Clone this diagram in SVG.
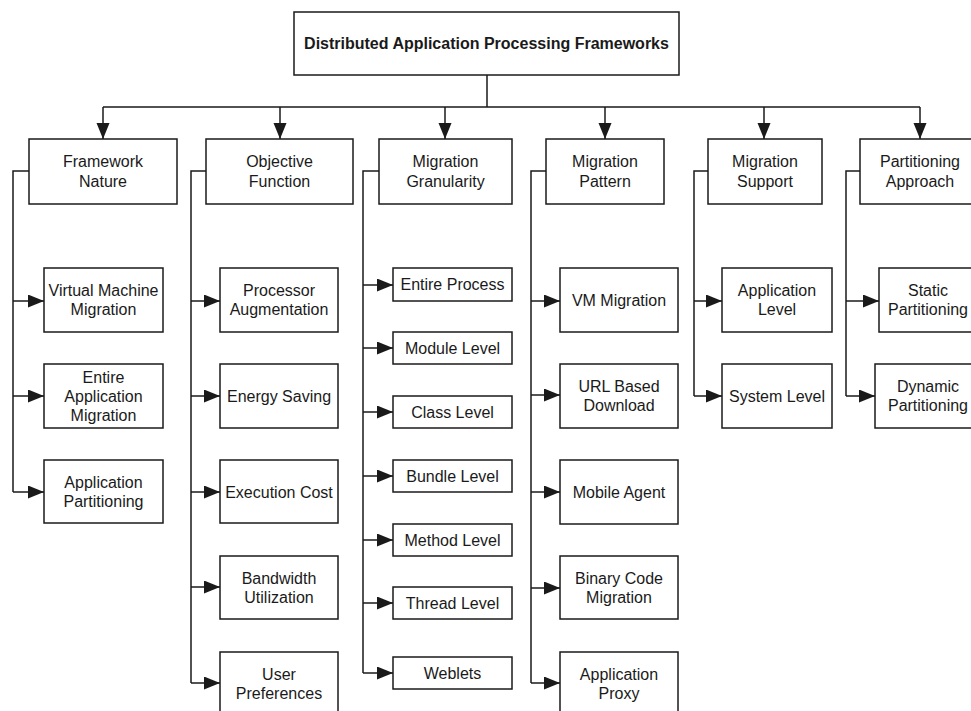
<svg xmlns="http://www.w3.org/2000/svg" width="971" height="711" viewBox="0 0 971 711">
<defs>
<marker id="arr" markerUnits="userSpaceOnUse" markerWidth="17" markerHeight="14" refX="16" refY="6.5" orient="auto">
<path d="M0,0 L16,6.5 L0,13 z" fill="#1a1a1a"/>
</marker>
<style>
rect{fill:#fff;stroke:#1a1a1a;stroke-width:1.5}
text{font-family:"Liberation Sans",Arial,sans-serif;font-size:16px;fill:#1a1a1a;text-anchor:middle}
.root{font-weight:bold}
.ln{fill:none;stroke:#1a1a1a;stroke-width:1.5}
.ar{fill:none;stroke:#1a1a1a;stroke-width:1.5;marker-end:url(#arr)}
</style>
</defs>
<rect x="0" y="0" width="971" height="711" style="fill:#fff;stroke:none"/>
<g id="connectors">
<path class="ln" d="M487,75 V107 M103,107 H920"/>
<path class="ar" d="M103,107 V139"/>
<path class="ar" d="M280,107 V139"/>
<path class="ar" d="M445,107 V139"/>
<path class="ar" d="M605,107 V139"/>
<path class="ar" d="M764,107 V139"/>
<path class="ar" d="M920,107 V139"/>
<path class="ln" d="M29,171 H13 V492"/>
<path class="ar" d="M13,301 H44"/>
<path class="ar" d="M13,396 H44"/>
<path class="ar" d="M13,492 H44"/>
<path class="ln" d="M206,171 H191 V683"/>
<path class="ar" d="M191,301 H220"/>
<path class="ar" d="M191,396 H220"/>
<path class="ar" d="M191,492 H220"/>
<path class="ar" d="M191,587 H220"/>
<path class="ar" d="M191,683 H220"/>
<path class="ln" d="M379,171 H363 V673"/>
<path class="ar" d="M363,285 H393"/>
<path class="ar" d="M363,348 H393"/>
<path class="ar" d="M363,412 H393"/>
<path class="ar" d="M363,476 H393"/>
<path class="ar" d="M363,540 H393"/>
<path class="ar" d="M363,603 H393"/>
<path class="ar" d="M363,673 H393"/>
<path class="ln" d="M546,171 H531 V683"/>
<path class="ar" d="M531,301 H560"/>
<path class="ar" d="M531,395 H560"/>
<path class="ar" d="M531,492 H560"/>
<path class="ar" d="M531,588 H560"/>
<path class="ar" d="M531,683 H560"/>
<path class="ln" d="M708,171 H694 V396"/>
<path class="ar" d="M694,301 H722"/>
<path class="ar" d="M694,396 H722"/>
<path class="ln" d="M860,171 H846 V396"/>
<path class="ar" d="M846,301 H879"/>
<path class="ar" d="M846,396 H875"/>
</g>
<g id="root"><rect x="294" y="12" width="385" height="63"/><text class="root" x="486.5" y="49">Distributed Application Processing Frameworks</text></g>
<g id="framework-nature"><rect x="29" y="139" width="148" height="65"/><text x="103" y="167">Framework</text><text x="103" y="187">Nature</text></g>
<g id="objective-function"><rect x="206" y="139" width="147" height="65"/><text x="279.5" y="167">Objective</text><text x="279.5" y="187">Function</text></g>
<g id="migration-granularity"><rect x="379" y="139" width="133" height="65"/><text x="445.5" y="167">Migration</text><text x="445.5" y="187">Granularity</text></g>
<g id="migration-pattern"><rect x="546" y="139" width="118" height="65"/><text x="605" y="167">Migration</text><text x="605" y="187">Pattern</text></g>
<g id="migration-support"><rect x="708" y="139" width="114" height="65"/><text x="765" y="167">Migration</text><text x="765" y="187">Support</text></g>
<g id="partitioning-approach"><rect x="860" y="139" width="120" height="65"/><text x="920" y="167">Partitioning</text><text x="920" y="187">Approach</text></g>
<g id="vm-migration-fn"><rect x="44" y="268" width="119" height="64"/><text x="103.5" y="296">Virtual Machine</text><text x="103.5" y="315">Migration</text></g>
<g id="entire-app-migration"><rect x="44" y="364" width="119" height="64"/><text x="103.5" y="383">Entire</text><text x="103.5" y="402">Application</text><text x="103.5" y="421">Migration</text></g>
<g id="app-partitioning"><rect x="44" y="460" width="119" height="63"/><text x="103.5" y="488">Application</text><text x="103.5" y="507">Partitioning</text></g>
<g id="processor-aug"><rect x="220" y="268" width="118" height="64"/><text x="279" y="296">Processor</text><text x="279" y="315">Augmentation</text></g>
<g id="energy-saving"><rect x="220" y="364" width="118" height="64"/><text x="279" y="402">Energy Saving</text></g>
<g id="execution-cost"><rect x="220" y="460" width="118" height="63"/><text x="279" y="498">Execution Cost</text></g>
<g id="bandwidth"><rect x="220" y="556" width="118" height="63"/><text x="279" y="584">Bandwidth</text><text x="279" y="603">Utilization</text></g>
<g id="user-pref"><rect x="220" y="652" width="118" height="64"/><text x="279" y="680">User</text><text x="279" y="699">Preferences</text></g>
<g id="entire-process"><rect x="393" y="268" width="119" height="33"/><text x="452.5" y="290">Entire Process</text></g>
<g id="module-level"><rect x="393" y="332" width="119" height="32"/><text x="452.5" y="354">Module Level</text></g>
<g id="class-level"><rect x="393" y="396" width="119" height="32"/><text x="452.5" y="418">Class Level</text></g>
<g id="bundle-level"><rect x="393" y="460" width="119" height="32"/><text x="452.5" y="482">Bundle Level</text></g>
<g id="method-level"><rect x="393" y="524" width="119" height="32"/><text x="452.5" y="546">Method Level</text></g>
<g id="thread-level"><rect x="393" y="587" width="119" height="32"/><text x="452.5" y="609">Thread Level</text></g>
<g id="weblets"><rect x="393" y="657" width="119" height="32"/><text x="452.5" y="679">Weblets</text></g>
<g id="vm-migration"><rect x="560" y="268" width="118" height="64"/><text x="619" y="306">VM Migration</text></g>
<g id="url-download"><rect x="560" y="364" width="118" height="64"/><text x="619" y="392">URL Based</text><text x="619" y="411">Download</text></g>
<g id="mobile-agent"><rect x="560" y="460" width="118" height="64"/><text x="619" y="498">Mobile Agent</text></g>
<g id="binary-code"><rect x="560" y="556" width="118" height="63"/><text x="619" y="584">Binary Code</text><text x="619" y="603">Migration</text></g>
<g id="app-proxy"><rect x="560" y="652" width="118" height="64"/><text x="619" y="680">Application</text><text x="619" y="699">Proxy</text></g>
<g id="app-level"><rect x="722" y="268" width="110" height="64"/><text x="777" y="296">Application</text><text x="777" y="315">Level</text></g>
<g id="system-level"><rect x="722" y="364" width="110" height="64"/><text x="777" y="402">System Level</text></g>
<g id="static-part"><rect x="879" y="268" width="98" height="64"/><text x="928" y="296">Static</text><text x="928" y="315">Partitioning</text></g>
<g id="dynamic-part"><rect x="875" y="364" width="106" height="64"/><text x="928" y="392">Dynamic</text><text x="928" y="411">Partitioning</text></g>
</svg>
